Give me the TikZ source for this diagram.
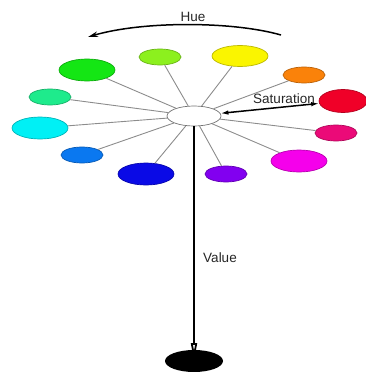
\documentclass[tikz,border=0pt]{standalone}
\usepackage{fontspec}
\setmainfont{Liberation Sans}
\usepackage{tikz}
\usetikzlibrary{shapes.geometric,arrows.meta}

\definecolor{hlime}{RGB}{140,240,30}
\definecolor{hyellow}{RGB}{250,245,0}
\definecolor{hgreen}{RGB}{20,230,20}
\definecolor{horange}{RGB}{250,130,10}
\definecolor{hred}{RGB}{240,0,40}
\definecolor{hspring}{RGB}{30,235,140}
\definecolor{hcyan}{RGB}{0,240,245}
\definecolor{hrose}{RGB}{235,10,120}
\definecolor{hazure}{RGB}{10,120,240}
\definecolor{hmagenta}{RGB}{245,0,235}
\definecolor{hblue}{RGB}{10,10,230}
\definecolor{hviolet}{RGB}{130,0,240}

\tikzset{
  blob/.style={ellipse, inner sep=0pt, line width=0.7pt},
  spoke/.style={draw=black!45, line width=0.9pt},
  label/.style={font=\fontsize{13.5}{16}\selectfont, text=black!85}
}

\begin{document}
\begin{tikzpicture}[x=1pt, y=-1pt]
    \useasboundingbox (0,0) rectangle (366,372);

    % --- hub and hue ellipses ---
    \node[blob, draw=black!55, fill=white, minimum width=54pt, minimum height=20pt] (hub) at (194,116) {};

    \foreach \n/\x/\y/\w/\h in {hlime/160/57/42/16, hyellow/240/56/56/21, hgreen/87/70/56/22,
        horange/304/75/42/16, hspring/50/97/42/16, hcyan/40/128/56/22,
        hrose/336/133/42/16, hazure/82/155/42/16, hmagenta/299/161/56/22,
        hblue/146/174/56/22, hviolet/226/174/42/16} {
        \node[blob, draw=\n!75!black, fill=\n, minimum width=\w pt, minimum height=\h pt] (\n) at (\x,\y) {};
        \draw[spoke] (hub) -- (\n);
    }
    \node[blob, draw=hred!75!black, fill=hred, minimum width=48pt, minimum height=23pt] (hred) at (343,101) {};

    % --- saturation ---
    \draw[line width=1.5pt, {Latex[length=8pt,width=4.5pt]}-{Latex[length=8pt,width=4.5pt]}] (hub) -- (hred);
    \node[label] (sat) at (284,99) {Saturation};

    % --- hue ---
    \coordinate (hueR) at (281,35);
    \coordinate (hueL) at (88,37);
    \draw[line width=1.5pt, -{Stealth[length=10pt,width=5.5pt]}] (hueR) .. controls (232,21) and (142,21) .. (hueL);
    \node[label] (hue) at (193,17) {Hue};

    % --- value ---
    \node[blob, fill=black, minimum width=58pt, minimum height=22pt] (base) at (194,361) {};
    \draw[line width=1.8pt, -{Triangle[open, length=18pt, width=6pt]}] (hub.south) -- (base.center);
    \node[label] (val) at (220,258) {Value};
\end{tikzpicture}
\end{document}
